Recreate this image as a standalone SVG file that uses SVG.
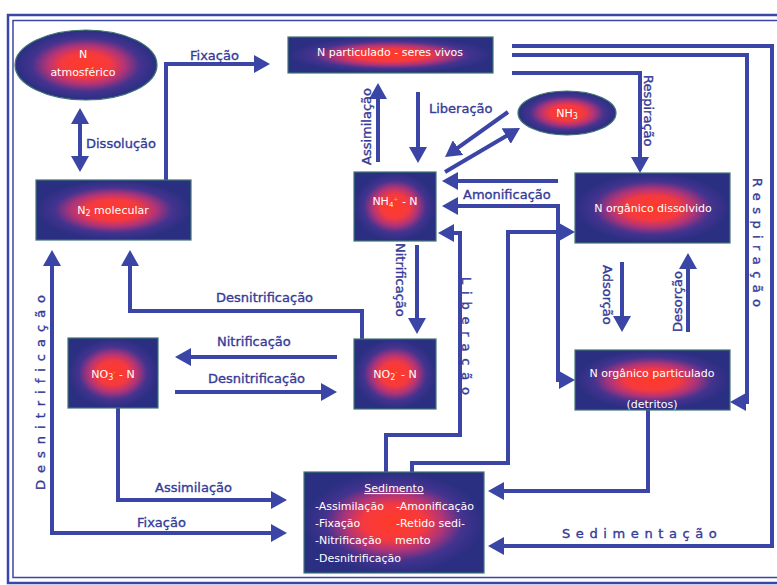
<svg xmlns="http://www.w3.org/2000/svg" width="777" height="585" viewBox="0 0 777 585">
  <defs>
    <radialGradient id="glow" cx="0.5" cy="0.5" r="0.5">
      <stop offset="0" stop-color="#ff3a26"/>
      <stop offset="0.35" stop-color="#f5393f"/>
      <stop offset="0.55" stop-color="#b03478"/>
      <stop offset="0.76" stop-color="#44338f"/>
      <stop offset="1" stop-color="#2a2f82"/>
    </radialGradient>
    <marker id="ah" viewBox="0 0 16 18" refX="3" refY="9" markerWidth="16" markerHeight="18" markerUnits="userSpaceOnUse" orient="auto-start-reverse">
      <path d="M0,0 L16,9 L0,18 z" fill="#3a45a5"/>
    </marker>
    <clipPath id="clipDet"><rect x="575" y="350" width="155" height="60"/></clipPath>
  </defs>
  <style>
    .frame { fill: none; stroke: #3a45a5; }
    .box { fill: url(#glow); stroke: #3f7672; stroke-width: 1.2; }
    .nt { font-family: "DejaVu Sans", "Liberation Sans", sans-serif; font-size: 11px; fill: #ffffff; text-anchor: middle; }
    .st { font-family: "DejaVu Sans", "Liberation Sans", sans-serif; font-size: 11px; fill: #ffffff; }
    .ln { fill: none; stroke: #3a45a5; stroke-width: 4; }
    .arr { marker-end: url(#ah); }
    .both { marker-start: url(#ah); marker-end: url(#ah); }
    .lb { font-family: "DejaVu Sans", "Liberation Sans", sans-serif; font-size: 13px; fill: #353b98; stroke: #353b98; stroke-width: 0.35; }
  </style>

  <rect width="777" height="585" fill="#ffffff"/>

  <!-- double frame -->
  <rect class="frame" x="8" y="15" width="800" height="568" stroke-width="2.5"/>
  <rect class="frame" x="13" y="20.5" width="790" height="557" stroke-width="1.5"/>

  <!-- connectors -->
  <g id="connectors">
    <path class="ln both" d="M80,121 V159"/>
    <path class="ln arr" d="M166,180 V64 H257"/>
    <path class="ln arr" d="M378,162 V96"/>
    <path class="ln arr" d="M418,92 V150"/>
    <path class="ln arr" d="M508,112 L455.6,149.4"/>
    <path class="ln arr" d="M445,172 L508.8,134.6"/>
    <path class="ln arr" d="M558,181 H455"/>
    <path class="ln both" d="M455,206 H558 V380 H562"/>
    <path class="ln arr" d="M412,472 V463 H508 V232 H562"/>
    <path class="ln arr" d="M386,472 V435 H460 V233 H451"/>
    <path class="ln arr" d="M417,245 V321"/>
    <path class="ln arr" d="M362,339 V311 H130 V263"/>
    <path class="ln arr" d="M337,357 H188"/>
    <path class="ln arr" d="M175,392 H324"/>
    <path class="ln arr" d="M118,408 V500 H274"/>
    <path class="ln both" d="M52,263 V533 H274"/>
    <path class="ln arr" d="M512,73 H640 V160"/>
    <path class="ln arr" d="M512,55 H747 V402 H743"/>
    <path class="ln arr" d="M512,46 H772 V546 H501"/>
    <path class="ln arr" d="M648,410 V491 H501"/>
    <path class="ln arr" d="M622,262 V319"/>
    <path class="ln arr" d="M688,332 V266"/>

    <!-- connector labels -->
    <text class="lb" x="190" y="60">Fixação</text>
    <text class="lb" x="86" y="148">Dissolução</text>
    <text class="lb" x="429" y="113">Liberação</text>
    <text class="lb" x="463" y="199">Amonificação</text>
    <text class="lb" x="216" y="302">Desnitrificação</text>
    <text class="lb" x="217" y="346">Nitrificação</text>
    <text class="lb" x="208" y="383">Desnitrificação</text>
    <text class="lb" x="155" y="492">Assimilação</text>
    <text class="lb" x="137" y="527">Fixação</text>
    <text class="lb" x="562" y="538" letter-spacing="5.6">Sedimentação</text>
    <text class="lb" font-size="14" transform="translate(371,165) rotate(-90)">Assimilação</text>
    <text class="lb" font-size="14" transform="translate(644,75) rotate(90)">Respiração</text>
    <text class="lb" font-size="15" transform="translate(396,243) rotate(90)">Nitrificação</text>
    <text class="lb" font-size="13.5" transform="translate(603,265) rotate(90)">Adsorção</text>
    <text class="lb" font-size="14.5" transform="translate(682,332) rotate(-90)">Desorção</text>
    <text class="lb" letter-spacing="6.4" transform="translate(753,178) rotate(90)">Respiração</text>
    <text class="lb" letter-spacing="6.8" transform="translate(462,277) rotate(90)">Liberação</text>
    <text class="lb" letter-spacing="7" transform="translate(45,490) rotate(-90)">Desnitrificação</text>
  </g>

  <!-- nodes -->
  <g id="n-atmosferico">
    <ellipse class="box" cx="86" cy="65" rx="71" ry="35"/>
    <text class="nt" x="83" y="58">N</text>
    <text class="nt" x="83" y="76">atmosférico</text>
  </g>
  <g id="n2-molecular">
    <rect class="box" x="36" y="180" width="155" height="60"/>
    <text class="nt" x="113" y="214">N<tspan font-size="8" dy="2">2</tspan><tspan dy="-2"> molecular</tspan></text>
  </g>
  <g id="n-particulado">
    <rect class="box" x="288" y="37" width="205" height="36"/>
    <text class="nt" x="390" y="56">N particulado - seres vivos</text>
  </g>
  <g id="nh3">
    <ellipse class="box" cx="567" cy="113" rx="49" ry="22"/>
    <text class="nt" x="567" y="117">NH<tspan font-size="8" dy="2">3</tspan></text>
  </g>
  <g id="nh4">
    <rect class="box" x="354" y="172" width="82" height="69"/>
    <text class="nt" x="395" y="205">NH<tspan font-size="7" dy="2">4</tspan><tspan font-size="6" dy="-6" fill-opacity="0.6">+</tspan><tspan dy="4"> - N</tspan></text>
  </g>
  <g id="n-organico-dissolvido">
    <rect class="box" x="575" y="173" width="155" height="70"/>
    <text class="nt" x="653" y="212">N orgânico dissolvido</text>
  </g>
  <g id="no3">
    <rect class="box" x="68" y="338" width="90" height="70"/>
    <text class="nt" x="113" y="378">NO<tspan font-size="8" dy="2">3</tspan><tspan font-size="6" dy="-6" fill-opacity="0.6">-</tspan><tspan dy="4">  - N</tspan></text>
  </g>
  <g id="no2">
    <rect class="box" x="354" y="339" width="82" height="70"/>
    <text class="nt" x="395" y="378">NO<tspan font-size="8" dy="2">2</tspan><tspan font-size="6" dy="-6" fill-opacity="0.6">-</tspan><tspan dy="4">  - N</tspan></text>
  </g>
  <g id="n-organico-particulado">
    <rect class="box" x="575" y="350" width="155" height="60"/>
    <text class="nt" x="652" y="377">N orgânico particulado</text>
    <text class="nt" x="652" y="408" clip-path="url(#clipDet)">(detritos)</text>
  </g>
  <g id="sedimento">
    <rect class="box" x="304" y="472" width="180" height="101"/>
    <text class="st" x="394" y="492" text-anchor="middle" text-decoration="underline">Sedimento</text>
    <text class="st" x="315" y="510">-Assimilação<tspan x="396">-Amonificação</tspan></text>
    <text class="st" x="315" y="527">-Fixação<tspan x="396">-Retido sedi-</tspan></text>
    <text class="st" x="315" y="544">-Nitrificação<tspan x="395">mento</tspan></text>
    <text class="st" x="315" y="562">-Desnitrificação</text>
  </g>
</svg>
